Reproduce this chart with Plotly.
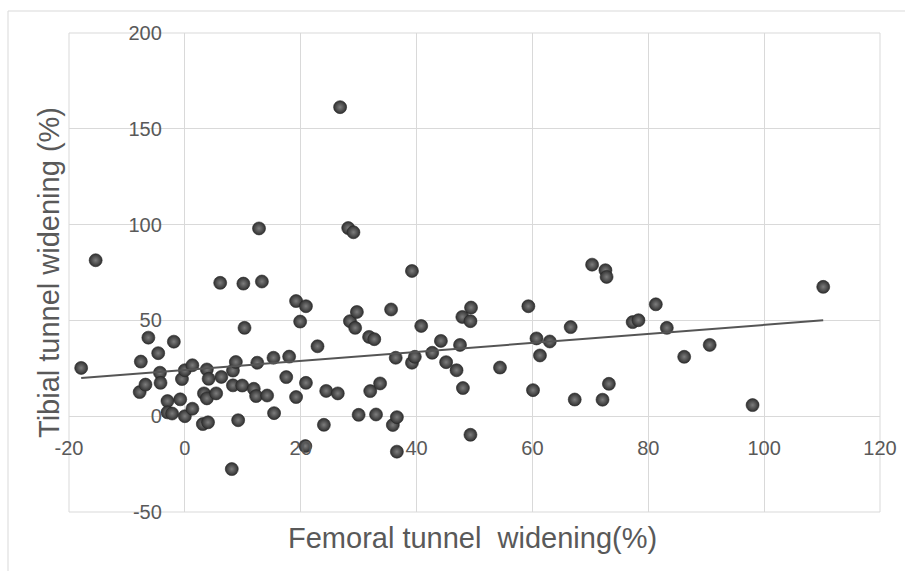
import numpy as np
import plotly.graph_objects as go

# Femoral tunnel widening (%) values
femoral = [-17.9, -15.4, -7.8, -7.6, -6.8, -6.3, -4.6, -4.3, -4.2, -3.0,
           -3.0, -2.2, -1.9, -0.8, -0.5, 0.0, 0.0, 1.3, 1.3, 3.1,
           3.3, 3.8, 3.8, 4.0, 4.1, 5.4, 6.3, 6.1, 8.1, 8.3,
           8.8, 8.3, 9.2, 9.9, 10.1, 10.3, 11.9, 12.3, 12.5, 12.8,
           13.3, 14.2, 15.3, 15.4, 17.5, 18.0, 19.2, 19.2, 19.9, 20.8,
           20.9, 20.9, 22.9, 24.0, 24.4, 26.4, 26.8, 28.2, 28.5, 29.1,
           29.4, 29.7, 30.0, 31.8, 32.0, 32.7, 33.0, 33.7, 35.6, 35.9,
           36.4, 36.6, 36.6, 39.2, 39.2, 39.7, 40.8, 42.7, 44.2, 45.1,
           46.9, 47.5, 47.9, 48.0, 49.3, 49.4, 49.3, 54.4, 59.3, 60.1,
           60.7, 61.3, 63.0, 66.6, 67.3, 70.3, 72.1, 72.6, 72.8, 73.2,
           77.3, 78.3, 81.3, 83.2, 86.2, 90.6, 98.0, 110.2]

# Tibial tunnel widening (%) values
tibial = [25.2, 81.4, 12.6, 28.5, 16.5, 41.0, 32.9, 22.7, 17.4, 7.9,
          2.0, 1.4, 38.9, 8.8, 19.4, 24.0, 0.0, 26.6, 3.9, -4.1,
          11.9, 24.4, 9.3, -3.2, 19.5, 11.9, 20.5, 69.6, -27.6, 23.8,
          28.3, 16.1, -2.1, 16.0, 69.2, 46.1, 14.3, 10.5, 27.9, 98.0,
          70.3, 10.8, 30.5, 1.6, 20.4, 31.1, 10.0, 60.1, 49.4, -15.6,
          17.4, 57.4, 36.5, -4.5, 13.2, 11.9, 161.3, 98.2, 49.6, 96.0,
          46.1, 54.4, 0.7, 41.4, 13.1, 40.2, 0.9, 17.1, 55.7, -4.6,
          30.5, -0.5, -18.5, 75.8, 27.9, 31.0, 47.1, 33.1, 39.3, 28.2,
          24.0, 37.2, 51.8, 14.7, 49.6, 56.7, -9.7, 25.4, 57.4, 13.6,
          40.6, 31.7, 39.0, 46.5, 8.7, 79.1, 8.6, 76.2, 72.7, 16.9,
          49.1, 50.1, 58.4, 46.1, 31.0, 37.2, 5.8, 67.5]

x_ticks = [-20, 0, 20, 40, 60, 80, 100, 120]
x_tick_labels = ["-20", "0", "20", "40", "60", "80", "100", "120"]
y_ticks = [-50, 0, 50, 100, 150, 200]
y_tick_labels = ["-50", "0", "50", "100", "150", "200"]
x_range = [-20, 120]
y_range = [-50, 200]

x_title = "Femoral tunnel\u00a0 widening(%)"
y_title = "Tibial tunnel widening (%)"

# Linear trendline (least squares), drawn over the data extent
slope, intercept = np.polyfit(femoral, tibial, 1)
trend_x = [min(femoral), max(femoral)]
trend_y = [slope * v + intercept for v in trend_x]

GRID = "#d9d9d9"
TXT = "#595959"
FONT = "Liberation Sans, Arial, sans-serif"

W, H = 905, 571
ML, MR, MT, MB = 69, 25, 33, 59
PW, PH = W - ML - MR, H - MT - MB


def px_x(p):
    return (p - ML) / PW


def px_y(p):
    return (H - MB - p) / PH


fig = go.Figure()

fig.add_trace(go.Scatter(
    x=femoral, y=tibial, mode="markers",
    marker=dict(size=13, color="#303030",
                gradient=dict(type="radial", color="#7d7d7d"),
                line=dict(width=0.6, color="#262626")),
    showlegend=False, hoverinfo="x+y",
))

fig.add_trace(go.Scatter(
    x=trend_x, y=trend_y, mode="lines",
    line=dict(color="#555555", width=2),
    showlegend=False, hoverinfo="skip",
))

x_pos = (0 - y_range[0]) / (y_range[1] - y_range[0])
y_pos = (0 - x_range[0]) / (x_range[1] - x_range[0])

fig.update_layout(
    width=W, height=H,
    margin=dict(l=ML, r=MR, t=MT, b=MB, autoexpand=False),
    paper_bgcolor="white", plot_bgcolor="white",
    font=dict(family=FONT, color=TXT),
    xaxis=dict(range=x_range, tickvals=x_ticks, ticktext=x_tick_labels,
               showgrid=True, gridcolor=GRID,
               gridwidth=1, zeroline=False, showline=False, automargin=False,
               anchor="free", position=x_pos,
               ticks="outside", ticklen=14, tickcolor="rgba(0,0,0,0)",
               tickfont=dict(family=FONT, size=20, color=TXT)),
    yaxis=dict(range=y_range, tickvals=y_ticks, ticktext=y_tick_labels,
               showgrid=True, gridcolor=GRID,
               gridwidth=1, zeroline=False, showline=False, automargin=False,
               anchor="free", position=y_pos,
               ticks="outside", ticklen=19, tickcolor="rgba(0,0,0,0)",
               tickfont=dict(family=FONT, size=20, color=TXT)),
    shapes=[
        dict(type="rect", xref="paper", yref="paper", x0=0, x1=1, y0=0, y1=1,
             line=dict(color=GRID, width=1), layer="below"),
        dict(type="rect", xref="paper", yref="paper",
             x0=px_x(8), x1=px_x(920), y0=px_y(590), y1=px_y(11),
             line=dict(color=GRID, width=1), layer="below"),
    ],
    annotations=[
        dict(text=x_title, xref="paper", yref="paper", x=px_x(472.5), y=px_y(538),
             xanchor="center", yanchor="middle", showarrow=False,
             font=dict(family=FONT, size=29, color=TXT)),
        dict(text=y_title, xref="paper", yref="paper", x=px_x(49), y=px_y(273),
             xanchor="center", yanchor="middle", showarrow=False, textangle=-90,
             font=dict(family=FONT, size=29, color=TXT)),
    ],
)

fig.write_html(
    "out.html",
    config={"displayModeBar": False},
    post_script="document.body.style.margin='0';document.body.style.padding='0';"
                "document.body.style.overflow='hidden';",
)
